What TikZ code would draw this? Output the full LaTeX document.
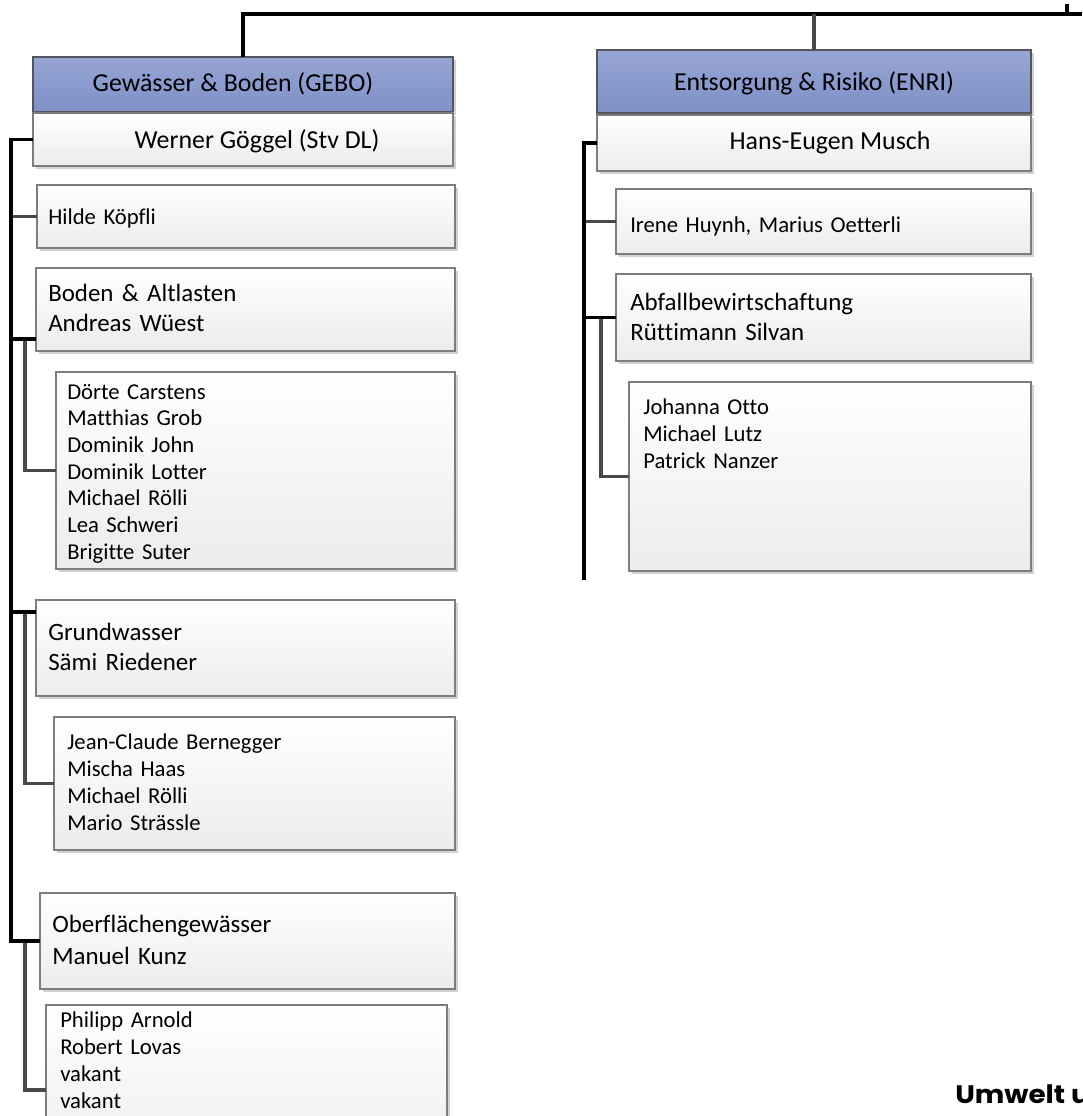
\documentclass[tikz,border=0pt]{standalone}
\usepackage{fontspec}
\setmainfont{Carlito}[Ligatures=NoCommon]
\newfontfamily\umfont{Poppins}[FakeStretch=1.1]
\usetikzlibrary{shadows}
\definecolor{hdrtop}{RGB}{150,165,212}
\definecolor{hdrbot}{RGB}{126,144,199}
\definecolor{hdrline}{RGB}{85,85,95}
\definecolor{boxline}{RGB}{125,125,125}
\definecolor{subline}{RGB}{72,72,72}
\definecolor{boxbot}{RGB}{236,236,236}
\tikzset{
  orgbox/.style={draw=boxline, line width=1.2pt, top color=white, bottom color=boxbot,
    inner sep=0pt, outer sep=0pt, anchor=north west,
    drop shadow={shadow xshift=2pt, shadow yshift=-2pt, fill=black!18, opacity=1}},
  hdrbox/.style={draw=hdrline, line width=1.2pt, top color=hdrtop, bottom color=hdrbot,
    inner sep=0pt, outer sep=0pt, anchor=north west,
    drop shadow={shadow xshift=2pt, shadow yshift=-2pt, fill=black!18, opacity=1}},
  trunk/.style={draw=black, line width=2.4pt},
  subcon/.style={draw=subline, line width=2.4pt},
  headtxt/.style={inner sep=0pt, anchor=base, font=\fontsize{19.4}{23}\selectfont},
  leadtxt/.style={inner sep=0pt, anchor=base west, text width=10cm, align=left,
    font=\fontsize{18.7}{22.8}\selectfont},
  stafftxt/.style={inner sep=0pt, anchor=base west, text width=10cm, align=left,
    font=\fontsize{17}{20.4}\selectfont},
}
\newcommand\mkbox[6]{\node[#6, minimum width={(#3-#1)*0.75pt}, minimum height={(#4-#2)*0.75pt}] (#5) at (#1,#2) {};}
\begin{document}
\begin{tikzpicture}[x=0.75pt,y=-0.75pt]
\useasboundingbox (0,0) rectangle (1082,1116);
\clip (0,0) rectangle (1082,1116);
% ---------------- GEBO column
\mkbox{33}{57}{453}{112}{gebo}{hdrbox}
\mkbox{33}{113}{453}{166}{werner}{orgbox}
\mkbox{37}{185}{455}{248}{hilde}{orgbox}
\mkbox{36}{268}{455}{351}{boden}{orgbox}
\mkbox{56}{372}{455}{569}{staffa}{orgbox}
\mkbox{36}{600}{455}{696}{grund}{orgbox}
\mkbox{54}{717}{455}{850}{staffb}{orgbox}
\mkbox{40}{893}{455}{989}{ober}{orgbox}
\mkbox{46}{1005}{447}{1175}{staffc}{orgbox}
% ---------------- ENRI column
\mkbox{597}{50}{1031}{113}{enri}{hdrbox}
\mkbox{597}{115}{1031}{171}{hans}{orgbox}
\mkbox{616}{189}{1031}{254}{irene}{orgbox}
\mkbox{616}{274}{1031}{361}{abfall}{orgbox}
\mkbox{629}{382}{1031}{571}{staffd}{orgbox}
% ---------------- texts
\node[headtxt] (tgebo) at (233,92) {Gewässer \& Boden (GEBO)};
\node[headtxt] (twerner) at (257,149) {Werner Göggel (Stv DL)};
\node[stafftxt] (thilde) at (48,224) {Hilde Köpfli};
\node[leadtxt] (tboden) at (48,301) {Boden \& Altlasten\\Andreas Wüest};
\node[stafftxt, font=\fontsize{17}{20}\selectfont] (tstaffa) at (67,399) {Dörte Carstens\\Matthias Grob\\Dominik John\\Dominik Lotter\\Michael Rölli\\Lea Schweri\\Brigitte Suter};
\node[leadtxt] (tgrund) at (48,640) {Grundwasser\\Sämi Riedener};
\node[stafftxt] (tstaffb) at (67,749) {Jean-Claude Bernegger\\Mischa Haas\\Michael Rölli\\Mario Strässle};
\node[leadtxt, font=\fontsize{18.7}{24}\selectfont] (tober) at (52,932) {Oberflächengewässer\\Manuel Kunz};
\node[stafftxt] (tstaffc) at (60,1027) {Philipp Arnold\\Robert Lovas\\vakant\\vakant};
\node[headtxt] (tenri) at (814,91) {Entsorgung \& Risiko (ENRI)};
\node[headtxt] (thans) at (830,150) {Hans-Eugen Musch};
\node[stafftxt] (tirene) at (630,233) {Irene Huynh, Marius Oetterli};
\node[leadtxt, font=\fontsize{18.7}{23.2}\selectfont] (tabfall) at (630,310) {Abfallbewirtschaftung\\Rüttimann Silvan};
\node[stafftxt] (tstaffd) at (643,414) {Johanna Otto\\Michael Lutz\\Patrick Nanzer};
\node[inner sep=0pt, anchor=base west, font=\umfont\bfseries\fontsize{19}{22}\selectfont] (umwelt) at (955,1103) {Umwelt u};
% ---------------- top connectors
\coordinate (topright) at (1082,14);
\coordinate (tick) at (1067,4);
\draw[trunk] (gebo.north) |- (topright);
\draw[trunk] (tick) -- (tick |- topright);
\draw[subcon] (enri.north) -- (enri.north |- topright);
% ---------------- GEBO connectors
\coordinate (gtend) at (11,941);
\coordinate (gbj) at (11,339);
\coordinate (ggj) at (11,612);
\coordinate (gbs) at (25,339);
\coordinate (ggs) at (25,612);
\coordinate (gos) at (25,941);
\draw[subcon] (hilde.west) -- (hilde.west -| gtend);
\draw[subcon] (staffa.west) -| (gbs);
\draw[subcon] (staffb.west) -| (ggs);
\draw[subcon] (staffc.west) -| (gos);
\draw[trunk] (werner.west) -| (gtend) -- (ober.west);
\draw[trunk] (gbj) -- (gbj -| boden.west);
\draw[trunk] (ggj) -- (ggj -| grund.west);
% ---------------- ENRI connectors
\coordinate (etend) at (584,580);
\coordinate (eas) at (601,317.5);
\draw[subcon] (irene.west) -- (irene.west -| etend);
\draw[subcon] (staffd.west) -| (eas);
\draw[trunk] (hans.west) -| (etend);
\draw[trunk] (abfall.west) -- (abfall.west -| etend);
\end{tikzpicture}
\end{document}
